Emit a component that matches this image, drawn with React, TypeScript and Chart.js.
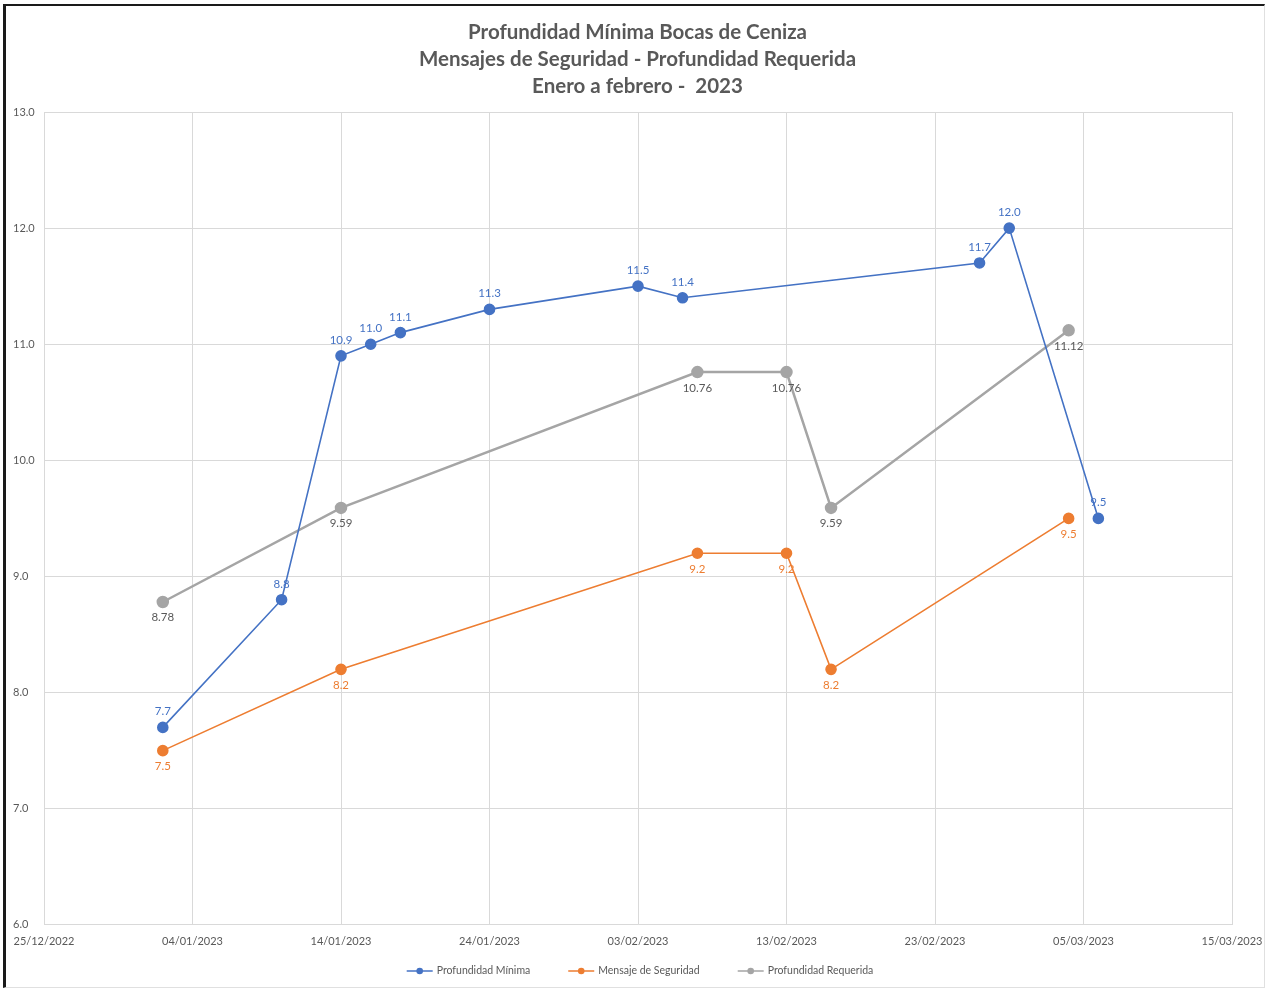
import React, { useEffect, useRef } from "react";
import { Chart, registerables } from "chart.js";

Chart.register(...registerables);

const TITLE_LINES = [
  "Profundidad Mínima Bocas de Ceniza",
  "Mensajes de Seguridad - Profundidad Requerida",
  "Enero a febrero -  2023",
];

const START_DATE = "2022-12-25";
const X_TICK_LABELS = [
  "25/12/2022",
  "04/01/2023",
  "14/01/2023",
  "24/01/2023",
  "03/02/2023",
  "13/02/2023",
  "23/02/2023",
  "05/03/2023",
  "15/03/2023",
];
const Y_MIN = 6;
const Y_MAX = 13;

const minimaDates = [
  "2023-01-02", "2023-01-10", "2023-01-14", "2023-01-16", "2023-01-18", "2023-01-24",
  "2023-02-03", "2023-02-06", "2023-02-26", "2023-02-28", "2023-03-06",
];
const minimaValues = [7.7, 8.8, 10.9, 11.0, 11.1, 11.3, 11.5, 11.4, 11.7, 12.0, 9.5];
const minimaLabels = ["7.7", "8.8", "10.9", "11.0", "11.1", "11.3", "11.5", "11.4", "11.7", "12.0", "9.5"];

const mensajeDates = ["2023-01-02", "2023-01-14", "2023-02-07", "2023-02-13", "2023-02-16", "2023-03-04"];
const mensajeValues = [7.5, 8.2, 9.2, 9.2, 8.2, 9.5];
const mensajeLabels = ["7.5", "8.2", "9.2", "9.2", "8.2", "9.5"];

const requeridaDates = ["2023-01-02", "2023-01-14", "2023-02-07", "2023-02-13", "2023-02-16", "2023-03-04"];
const requeridaValues = [8.78, 9.59, 10.76, 10.76, 9.59, 11.12];
const requeridaLabels = ["8.78", "9.59", "10.76", "10.76", "9.59", "11.12"];

const SERIES_NAMES = ["Profundidad Mínima", "Mensaje de Seguridad", "Profundidad Requerida"];
const COLORS = ["#4472C4", "#ED7D31", "#A5A5A5"];
const LABEL_COLORS = ["#4472C4", "#ED7D31", "#595959"];

const FONT = "Lato, 'Open Sans', sans-serif";

function dayIndex(d: string): number {
  const [y, m, dd] = d.split("-").map(Number);
  const [y0, m0, d0] = START_DATE.split("-").map(Number);
  return Math.round((Date.UTC(y, m - 1, dd) - Date.UTC(y0, m0 - 1, d0)) / 86400000);
}

const dataLabelPlugin = {
  id: "dataLabels",
  afterDatasetsDraw(chart: any) {
    const ctx = chart.ctx;
    ctx.save();
    ctx.font = `11.5px ${FONT}`;
    ctx.textAlign = "center";
    chart.data.datasets.forEach((ds: any, i: number) => {
      const meta = chart.getDatasetMeta(i);
      meta.data.forEach((pt: any, j: number) => {
        const txt = ds.pointTexts[j];
        ctx.fillStyle = LABEL_COLORS[i];
        if (ds.labelPos === "top") {
          ctx.textBaseline = "bottom";
          ctx.fillText(txt, pt.x, pt.y - 10);
        } else {
          ctx.textBaseline = "top";
          ctx.fillText(txt, pt.x, pt.y + 10);
        }
      });
    });
    ctx.restore();
  },
};

const titlePlugin = {
  id: "customTitle",
  afterDraw(chart: any) {
    const ctx = chart.ctx;
    ctx.save();
    ctx.font = `bold 20.5px ${FONT}`;
    ctx.fillStyle = "#595959";
    ctx.textAlign = "center";
    ctx.textBaseline = "middle";
    TITLE_LINES.forEach((t, i) => {
      ctx.fillText(t, 631.5, 26 + i * 27);
    });
    ctx.restore();
  },
};

const customLegendPlugin = {
  id: "customLegend",
  afterDraw(chart: any) {
    const ctx = chart.ctx;
    const y = 965;
    const iconW = 26;
    const gapIcon = 4;
    const gapItem = 38;
    ctx.save();
    ctx.font = `10.5px ${FONT}`;
    const widths = SERIES_NAMES.map((n) => iconW + gapIcon + ctx.measureText(n).width);
    const total = widths.reduce((a, b) => a + b, 0) + gapItem * (SERIES_NAMES.length - 1);
    let x = 634 - total / 2;
    SERIES_NAMES.forEach((n, i) => {
      ctx.strokeStyle = COLORS[i];
      ctx.lineWidth = 1.5;
      ctx.beginPath();
      ctx.moveTo(x, y);
      ctx.lineTo(x + iconW, y);
      ctx.stroke();
      ctx.fillStyle = COLORS[i];
      ctx.beginPath();
      ctx.arc(x + iconW / 2, y, 3.3, 0, Math.PI * 2);
      ctx.fill();
      ctx.fillStyle = "#595959";
      ctx.textAlign = "left";
      ctx.textBaseline = "middle";
      ctx.fillText(n, x + iconW + gapIcon, y);
      x += widths[i] + gapItem;
    });
    ctx.restore();
  },
};

export default function App() {
  const ref = useRef<HTMLCanvasElement | null>(null);

  useEffect(() => {
    if (!ref.current) return;
    const mk = (dates: string[], vals: number[]) => dates.map((d, i) => ({ x: dayIndex(d), y: vals[i] }));
    const chart = new Chart(ref.current, {
      type: "line",
      data: {
        datasets: [
          {
            label: SERIES_NAMES[0],
            data: mk(minimaDates, minimaValues),
            borderColor: COLORS[0],
            backgroundColor: COLORS[0],
            borderWidth: 1.6,
            pointRadius: 5,
            pointTexts: minimaLabels,
            labelPos: "top",
          } as any,
          {
            label: SERIES_NAMES[1],
            data: mk(mensajeDates, mensajeValues),
            borderColor: COLORS[1],
            backgroundColor: COLORS[1],
            borderWidth: 1.6,
            pointRadius: 5,
            pointTexts: mensajeLabels,
            labelPos: "bottom",
          } as any,
          {
            label: SERIES_NAMES[2],
            data: mk(requeridaDates, requeridaValues),
            borderColor: COLORS[2],
            backgroundColor: COLORS[2],
            borderWidth: 2.5,
            pointRadius: 5,
            pointTexts: requeridaLabels,
            labelPos: "bottom",
          } as any,
        ],
      },
      options: {
        animation: false,
        responsive: false,
        maintainAspectRatio: false,
        layout: { padding: { left: 7, right: 34, top: 106, bottom: 28 } },
        scales: {
          x: {
            type: "linear",
            min: 0,
            max: (X_TICK_LABELS.length - 1) * 10,
            ticks: {
              stepSize: 10,
              color: "#595959",
              font: { family: FONT, size: 11 },
              maxRotation: 0,
              autoSkip: false,
              padding: 10,
              callback: (v: any) => X_TICK_LABELS[Math.round(Number(v) / 10)] ?? "",
            },
            grid: { color: "#D9D9D9", lineWidth: 1, drawTicks: false },
            border: { color: "#D9D9D9" },
            afterFit: (s: any) => {
              s.paddingLeft = 0;
              s.paddingRight = 0;
            },
          },
          y: {
            min: Y_MIN,
            max: Y_MAX,
            ticks: {
              stepSize: 1,
              color: "#595959",
              font: { family: FONT, size: 11 },
              padding: 8,
              crossAlign: "far",
              callback: (v: any) => Number(v).toFixed(1),
            },
            grid: { color: "#D9D9D9", lineWidth: 1, drawTicks: false },
            border: { color: "#D9D9D9" },
            afterFit: (s: any) => {
              s.width = 31;
              s.paddingTop = 0;
            },
          },
        },
        plugins: {
          title: { display: false },
          legend: { display: false },
          tooltip: { enabled: false },
        },
      },
      plugins: [dataLabelPlugin, titlePlugin, customLegendPlugin],
    });
    return () => chart.destroy();
  }, []);

  return (
    <div style={{ position: "fixed", left: 0, top: 0, width: 1268, height: 990, background: "#fff" }}>
      <div
        style={{
          position: "absolute",
          left: 3,
          top: 4,
          width: 1262,
          height: 984,
          borderLeft: "3px solid #1a1a1a",
          borderTop: "2px solid #1a1a1a",
          borderRight: "1px solid #e0e0e0",
          borderBottom: "1px solid #e0e0e0",
          boxSizing: "border-box",
        }}
      />
      <canvas
        ref={ref}
        width={1260}
        height={980}
        style={{ position: "absolute", left: 6, top: 6, width: 1260, height: 980 }}
      />
    </div>
  );
}
